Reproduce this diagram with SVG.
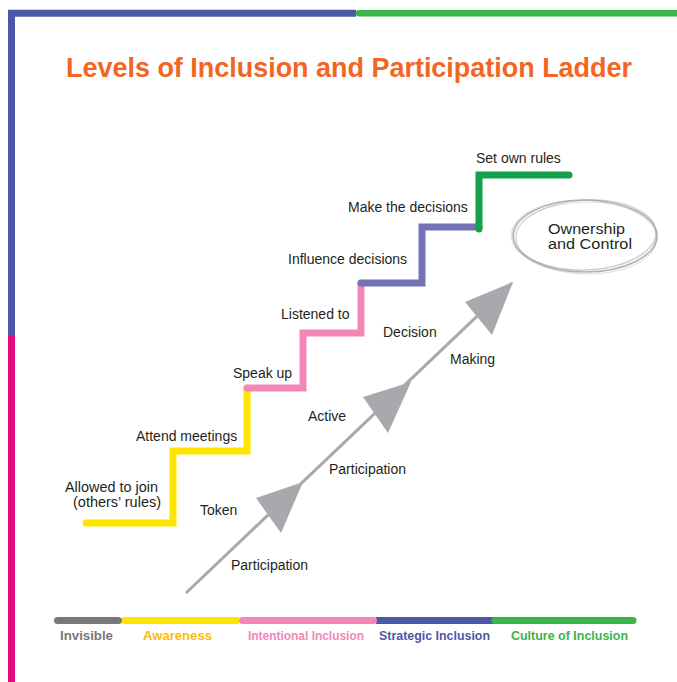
<svg xmlns="http://www.w3.org/2000/svg" width="677" height="682" viewBox="0 0 677 682">
<style>
.lbl{font-family:"Liberation Sans",Arial,sans-serif;font-size:14px;fill:#231F20}
.lvl{font-family:"Liberation Sans",Arial,sans-serif;font-size:12.5px;font-weight:bold}
.step{fill:none;stroke-width:7;stroke-linejoin:miter;stroke-linecap:round}
.arr{fill:#A7A9AC}
</style>
<rect width="677" height="682" fill="#FFFFFF"/>
<g id="border">
<path d="M11.5 682 V336" stroke="#E5097F" stroke-width="7" fill="none"/>
<path d="M11.5 336 V13.3 H356" stroke="#4B58A7" stroke-width="7" fill="none" stroke-linejoin="miter"/>
<path d="M359 13.3 H677" stroke="#39B54A" stroke-width="6.5" fill="none" stroke-linecap="round"/>
</g>
<text id="title" x="349" y="77" text-anchor="middle" font-family="Liberation Sans, Arial, sans-serif" font-weight="bold" font-size="28" fill="#F26522" textLength="566" lengthAdjust="spacingAndGlyphs">Levels of Inclusion and Participation Ladder</text>
<g id="ladder">
<path class="step" stroke="#FFE600" d="M86 523 H173 V451 H247 V388"/>
<path class="step" stroke="#F287B7" d="M247 388 H303 V333 H361 V283"/>
<path class="step" stroke="#7571B5" d="M361 283 H422 V227 H479"/>
<path class="step" stroke="#13A24A" d="M479 229 V175 H569"/>
</g>
<g id="connectors">
<line x1="186" y1="593" x2="512" y2="283" stroke="#A7A9AC" stroke-width="3"/>
<polygon class="arr" points="303,482 256,498 281,533"/>
<polygon class="arr" points="411,382 363,397 388,433"/>
<polygon class="arr" points="513,282 465,302 492,335"/>
</g>
<g id="ownership">
<g fill="none" stroke="#A7A9AC">
<ellipse cx="585" cy="236" rx="72" ry="36" stroke-width="1.6" opacity="0.9"/>
<ellipse cx="586" cy="235" rx="70" ry="35" stroke-width="1" opacity="0.6" transform="rotate(-3 586 235)"/>
<ellipse cx="584" cy="237" rx="73" ry="37" stroke-width="0.8" opacity="0.5" transform="rotate(2 584 237)"/>
<ellipse cx="585" cy="236" rx="71" ry="34" stroke-width="0.8" opacity="0.5" transform="rotate(-1 585 236)"/>
</g>
<text class="lbl" x="548" y="234" font-size="14.5" textLength="77" lengthAdjust="spacingAndGlyphs">Ownership</text>
<text class="lbl" x="548" y="249" font-size="14.5" textLength="84" lengthAdjust="spacingAndGlyphs">and Control</text>
</g>
<g id="step-labels">
<text class="lbl" x="65" y="492" font-size="13.5" textLength="93" lengthAdjust="spacingAndGlyphs">Allowed to join</text>
<text class="lbl" x="73" y="507" font-size="13.5" textLength="88" lengthAdjust="spacingAndGlyphs">(others’ rules)</text>
<text class="lbl" x="136" y="441">Attend meetings</text>
<text class="lbl" x="233" y="378">Speak up</text>
<text class="lbl" x="281" y="319">Listened to</text>
<text class="lbl" x="288" y="264">Influence decisions</text>
<text class="lbl" x="348" y="212">Make the decisions</text>
<text class="lbl" x="476" y="163">Set own rules</text>
</g>
<g id="arrow-labels">
<text class="lbl" x="200" y="515">Token</text>
<text class="lbl" x="231" y="570">Participation</text>
<text class="lbl" x="308" y="421">Active</text>
<text class="lbl" x="329" y="474">Participation</text>
<text class="lbl" x="383" y="337">Decision</text>
<text class="lbl" x="450" y="364">Making</text>
</g>
<g id="levels">
<path d="M122 620.5 H239" stroke="#FFE600" stroke-width="7"/>
<path d="M376 620.5 H495" stroke="#4B58A7" stroke-width="7"/>
<path d="M495 620.5 H633" stroke="#39B54A" stroke-width="7" stroke-linecap="round"/>
<path d="M57.5 620.5 H118.5" stroke="#77787B" stroke-width="7" stroke-linecap="round"/>
<path d="M242.5 620.5 H373.5" stroke="#F287B7" stroke-width="7" stroke-linecap="round"/>
<text class="lvl" x="60" y="640" fill="#77787B" textLength="53" lengthAdjust="spacingAndGlyphs">Invisible</text>
<text class="lvl" x="143" y="640" fill="#FDB913" textLength="69" lengthAdjust="spacingAndGlyphs">Awareness</text>
<text class="lvl" x="248" y="640" fill="#F287B7" textLength="116" lengthAdjust="spacingAndGlyphs">Intentional Inclusion</text>
<text class="lvl" x="379" y="640" fill="#4B58A7" textLength="111" lengthAdjust="spacingAndGlyphs">Strategic Inclusion</text>
<text class="lvl" x="511" y="640" fill="#39B54A" textLength="117" lengthAdjust="spacingAndGlyphs">Culture of Inclusion</text>
</g>
</svg>
